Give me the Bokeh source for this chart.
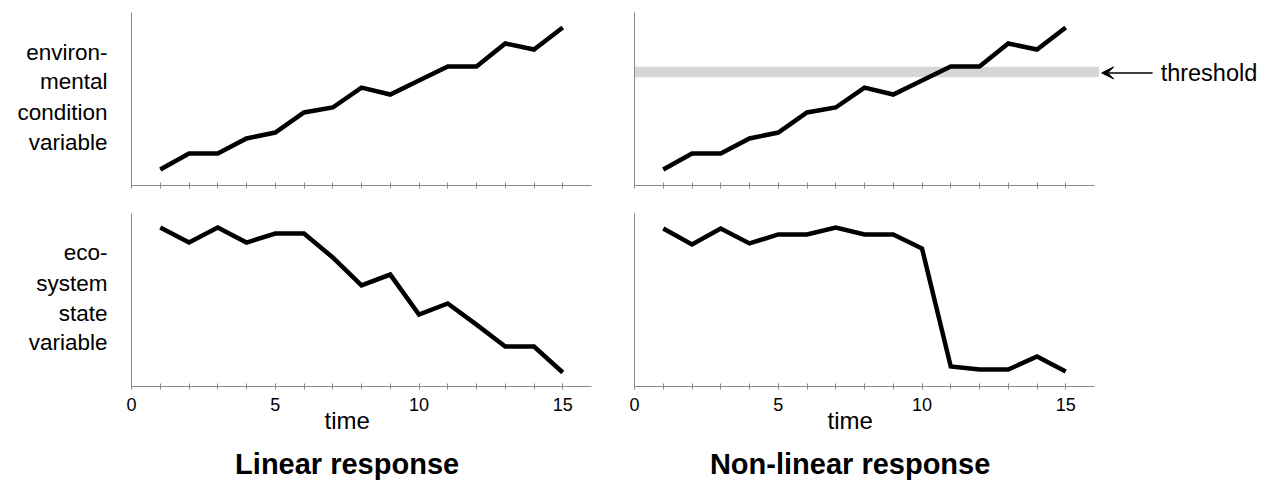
from bokeh.plotting import figure
from bokeh.layouts import column, row
from bokeh.models import Range1d, FixedTicker, Label, Arrow, VeeHead, Title
from bokeh.embed import file_html
from bokeh.resources import INLINE

# ---- data ----
time = list(range(1, 16))
env_condition = [0.92, 1.85, 1.85, 2.72, 3.06, 4.22, 4.51, 5.66, 5.26, 6.07, 6.88, 6.88, 8.21, 7.86, 9.13]
eco_linear = [9.19, 8.32, 9.19, 8.32, 8.84, 8.84, 7.46, 5.84, 6.47, 4.16, 4.80, 3.58, 2.31, 2.31, 0.81]
eco_nonlinear = [9.13, 8.21, 9.13, 8.27, 8.79, 8.79, 9.19, 8.79, 8.79, 7.98, 1.16, 0.98, 0.98, 1.73, 0.87]
threshold = 6.56
major_ticks = [0, 5, 10, 15]
minor_ticks = list(range(0, 16))
top_label = ["environ-", "mental", "condition", "variable"]
top_label_y = [7.69, 6.01, 4.22, 2.49]
bottom_label = ["eco-", "system", "state", "variable"]
bottom_label_y = [7.75, 5.95, 4.22, 2.54]
titles = ["Linear response", "Non-linear response"]
title_x = 7.5            # titles are centred under the middle of the time span

FONT = "Liberation Sans"
AX = "#8a8a8a"
PX = 460 / 16.0          # pixels per time unit
LW = 4.5
LABW = 121               # width of the left text column
PAD = 10                 # left border of left panels


def base(width, height, bl, br, bt, bb, xr, yr=None, axes=True):
    kw = dict(width=width, height=height, output_backend="svg", toolbar_location=None,
              x_range=xr, y_range=yr if yr is not None else Range1d(0, 10),
              min_border_left=bl, min_border_right=br, min_border_top=bt, min_border_bottom=bb)
    if not axes:
        kw.update(x_axis_location=None, y_axis_location=None)
    p = figure(**kw)
    p.outline_line_color = None
    p.grid.visible = False
    p.background_fill_color = "white"
    p.border_fill_color = "white"
    return p


def panel(width, height, bl, br, bt, bb, xr, labels_on):
    p = base(width, height, bl, br, bt, bb, xr)
    ya = p.yaxis[0]
    ya.ticker = FixedTicker(ticks=[])
    ya.axis_line_color = AX
    ya.major_tick_line_color = None
    ya.minor_tick_line_color = None
    ya.major_tick_out = 0
    ya.major_tick_in = 0
    ya.minor_tick_out = 0
    ya.minor_tick_in = 0
    ya.major_label_standoff = 0
    xa = p.xaxis[0]
    xa.bounds = (0, 16)
    if labels_on:
        xa.ticker = FixedTicker(ticks=major_ticks, minor_ticks=minor_ticks)
    else:
        xa.ticker = FixedTicker(ticks=[], minor_ticks=minor_ticks)
    xa.axis_line_color = AX
    xa.major_tick_line_color = AX
    xa.minor_tick_line_color = AX
    xa.major_tick_in = 3
    xa.major_tick_out = 3
    xa.minor_tick_in = 3
    xa.minor_tick_out = 3
    xa.major_label_text_font = FONT
    xa.major_label_text_font_size = "18px"
    xa.major_label_text_color = "black"
    xa.major_label_standoff = 8
    if labels_on:
        p.add_layout(Title(text="time", align="left", offset=193, standoff=-14,
                           vertical_align="top", text_font=FONT, text_font_size="24px",
                           text_font_style="normal", text_color="black"), "below")
    return p


def label_fig(height, bt, bb, words, ys):
    p = base(LABW, height, 0, 0, bt, bb,
             Range1d(-(LABW + PAD) / PX, -PAD / PX), axes=False)
    for w, y in zip(words, ys):
        p.add_layout(Label(x=-0.835, y=y, text=w, text_align="right", text_baseline="middle",
                           text_font=FONT, text_font_size="22.5px", text_color="black"))
    return p


def title_fig(width, x0_px, text):
    p = base(width, 40, 0, 0, 0, 0, Range1d(-x0_px / PX, (width - x0_px) / PX),
             yr=Range1d(0, 1), axes=False)
    p.add_layout(Label(x=title_x, y=0.42, text=text, text_align="center",
                       text_baseline="middle", text_font=FONT, text_font_size="29px",
                       text_font_style="bold", text_color="black"))
    return p


# top row
lt = label_fig(200, 12, 15, top_label, top_label_y)

tl = panel(PAD + 460 + 9, 200, PAD, 9, 12, 15, Range1d(0, 16), False)
tl.line(time, env_condition, line_width=LW, color="black", line_join="miter")

tr = panel(666, 200, 34, 0, 12, 15, Range1d(0, 632 / PX), False)
tr.hbar(y=[threshold], left=[-0.07], right=[16.14], height=0.55, color="#d6d6d6")
tr.line(time, env_condition, line_width=LW, color="black", line_join="miter")
tr.add_layout(Arrow(end=VeeHead(size=12, fill_color="black", line_color="black", line_width=1),
                    x_start=18.02, y_start=threshold - 0.05, x_end=16.25, y_end=threshold - 0.05,
                    line_color="black", line_width=1.5))
tr.add_layout(Label(x=18.3, y=threshold - 0.05, text="threshold", text_align="left",
                    text_baseline="middle", text_font=FONT, text_font_size="23.5px",
                    text_color="black"))

# bottom row
lb = label_fig(240, 13, 54, bottom_label, bottom_label_y)

bl = panel(PAD + 460 + 9, 240, PAD, 9, 13, 54, Range1d(0, 16), True)
bl.line(time, eco_linear, line_width=LW, color="black", line_join="miter")

br = panel(666, 240, 34, 172, 13, 54, Range1d(0, 16), True)
br.line(time, eco_nonlinear, line_width=LW, color="black", line_join="miter")

# title row
t_left = title_fig(LABW + PAD + 460 + 9, LABW + PAD, titles[0])
t_right = title_fig(666, 34, titles[1])

layout = column(row(lt, tl, tr), row(lb, bl, br), row(t_left, t_right))

with open("out.html", "w") as f:
    f.write(file_html(layout, INLINE))
